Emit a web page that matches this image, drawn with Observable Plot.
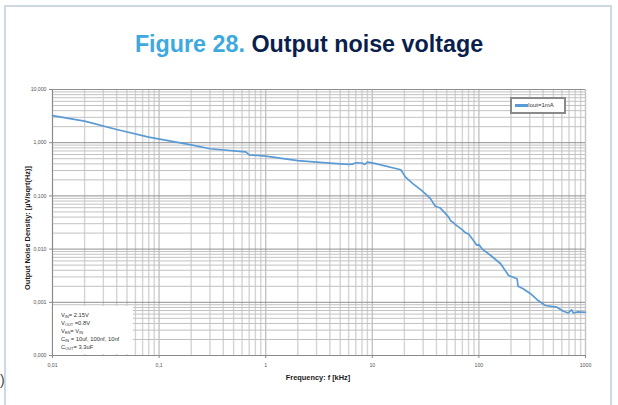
<!DOCTYPE html>
<html>
<head>
<meta charset="utf-8">
<script src="https://cdn.jsdelivr.net/npm/d3@7"></script>
<script src="https://cdn.jsdelivr.net/npm/@observablehq/plot@0.6"></script>
<style>
  html, body { margin: 0; padding: 0; background: #fff; }
  #wrap { position: relative; width: 618px; height: 405px; overflow: hidden; font-family: "Liberation Sans", Arial, sans-serif; }
  #frame { position: absolute; left: 4px; top: 5px; width: 604px; height: 440px; border: 2px solid #cdd8e3; border-bottom: none; }
  #title { position: absolute; left: 0; top: 31px; width: 618px; text-align: center; font-weight: bold; font-size: 23.3px; color: #0b1f4d; }
  #title .fig { color: #3ea9de; }
  #chart { position: absolute; left: 0; top: 0; }
  #legend { position: absolute; left: 510px; top: 97px; width: 52px; height: 13px; border: 2px solid #8a8a8a; background: #fff; font-size: 6px; color: #333; }
  #legend .sw { position: absolute; left: 3px; top: 5px; width: 13px; height: 3px; background: #5b9bd5; }
  #legend .lt { position: absolute; left: 16px; top: 2.5px; }
  #note { position: absolute; left: 53px; top: 306px; width: 80px; height: 48px; background: #fff; font-size: 5.8px; color: #333; }
  #note div { position: absolute; left: 8px; white-space: nowrap; }
  #note sub { font-size: 3.9px; vertical-align: -1px; }
  #ylab { position: absolute; left: 27px; top: 228px; transform: translate(-50%, -50%) rotate(-90deg); white-space: nowrap; font-weight: bold; font-size: 7.4px; color: #1a1a1a; }
  #xlab { position: absolute; left: 318px; top: 377px; transform: translate(-50%, -50%); white-space: nowrap; font-weight: bold; font-size: 7.4px; color: #1a1a1a; }
  #cut { position: absolute; left: 0px; top: 372px; font-size: 14px; color: #444; }
</style>
</head>
<body>
<div id="wrap">
  <div id="frame"></div>
  <div id="cut">)</div>
  <div id="title"><span class="fig">Figure 28.</span> Output noise voltage</div>
  <div id="chart"></div>
  <div id="ylab"></div>
  <div id="xlab"></div>
  <div id="legend"><div class="sw"></div><div class="lt">Iout=1mA</div></div>
  <div id="note"></div>
</div>
<script>
// ---- data ----
const freq = [0.01, 0.02, 0.04, 0.08, 0.2, 0.3, 0.6, 0.65, 0.7, 1.0, 2.0, 3.0, 5.0, 6.0, 6.5, 7.0, 8.0, 8.5, 9.0, 10.5,
  18.5, 20.5, 24, 29, 35, 39, 43, 48, 52, 54, 57, 60, 63, 70, 75, 80, 90, 96, 100, 107, 130, 160, 190, 228, 233, 260,
  305, 360, 420, 540, 620, 690, 740, 770, 850, 1000];
const noise = [3.24, 2.54, 1.77, 1.27, 0.91, 0.77, 0.68, 0.67, 0.59, 0.56, 0.46, 0.43, 0.40, 0.39, 0.395, 0.42, 0.415, 0.39, 0.43, 0.41,
  0.31, 0.225, 0.17, 0.127, 0.09, 0.064, 0.06, 0.048, 0.04, 0.0345, 0.032, 0.029, 0.027, 0.023, 0.0202, 0.0192, 0.014, 0.0117, 0.0122, 0.0101, 0.0075, 0.0053, 0.0032, 0.00277, 0.00201, 0.0018,
  0.00145, 0.00108, 0.00087, 0.00081, 0.00068, 0.00063, 0.00072, 0.00063, 0.00066, 0.00065];
const seriesName = "Iout=1mA";
const xTicks = [0.01, 0.1, 1, 10, 100, 1000];
const xTickLabels = ["0,01", "0,1", "1", "10", "100", "1000"];
const yTicks = [10, 1, 0.1, 0.01, 0.001, 0.0001];
const yTickLabels = ["10,000", "1,000", "0,100", "0,010", "0,001", "0,000"];
const xLabel = "Frequency: f [kHz]";
const yLabel = "Output Noise Density: [µV/sqrt(Hz)]";
const noteLines = [
  ["V", "IN", "= 2.15V"],
  ["V", "OUT", " =0.8V"],
  ["V", "EN", "= V", "IN"],
  ["C", "IN", " = 10uf, 100nf, 10nf"],
  ["C", "OUT", "= 3.3uF"]
];

// ---- grid positions (1..9 per decade) ----
const xMinor = [], yMinor = [];
for (let k = -2; k < 3; k++) for (let m = 2; m <= 9; m++) xMinor.push(m * Math.pow(10, k));
for (let k = -4; k < 1; k++) for (let m = 2; m <= 9; m++) yMinor.push(m * Math.pow(10, k));

const data = freq.map((f, i) => ({f, v: noise[i]}));
const xFmt = new Map(xTicks.map((t, i) => [t, xTickLabels[i]]));
const yFmt = new Map(yTicks.map((t, i) => [t, yTickLabels[i]]));

const chart = Plot.plot({
  width: 618,
  height: 405,
  marginLeft: 52,
  marginRight: 33,
  marginTop: 89,
  marginBottom: 50,
  style: {fontFamily: "Liberation Sans, Arial, sans-serif", background: "transparent", color: "#555"},
  x: {type: "log", domain: [0.01, 1000]},
  y: {type: "log", domain: [0.0001, 10]},
  marks: [
    Plot.ruleX(xMinor, {stroke: "#d4d4d4", strokeWidth: 1.4}),
    Plot.ruleX(xTicks, {stroke: "#c4c4c4", strokeWidth: 1.4}),
    Plot.ruleY(yMinor, {stroke: "#c2c2c2", strokeWidth: 1}),
    Plot.ruleY(yTicks, {stroke: "#8f8f8f", strokeWidth: 1}),
    Plot.ruleX([0.01], {stroke: "#8a8a8a", strokeWidth: 1}),
    Plot.ruleY([0.0001], {stroke: "#8a8a8a", strokeWidth: 1}),
    Plot.axisX(xTicks, {tickFormat: d => xFmt.get(d), tickSize: 3, tickPadding: 5, fontSize: 5.2, label: null, stroke: "#8a8a8a"}),
    Plot.axisY(yTicks, {tickFormat: d => yFmt.get(d), tickSize: 3, tickPadding: 3, fontSize: 5.2, label: null, stroke: "#8a8a8a"}),
    Plot.line(data, {x: "f", y: "v", stroke: "#5b9bd5", strokeWidth: 1.7})
  ]
});
document.getElementById("chart").appendChild(chart);
document.querySelector("#legend .lt").textContent = seriesName;
document.getElementById("ylab").textContent = yLabel;
document.getElementById("xlab").textContent = xLabel;

const note = document.getElementById("note");
noteLines.forEach((parts, i) => {
  const div = document.createElement("div");
  div.style.top = (6 + i * 7.9) + "px";
  let html = "";
  for (let j = 0; j < parts.length; j++) {
    html += (j % 2 === 1) ? "<sub>" + parts[j] + "</sub>" : parts[j];
  }
  div.innerHTML = html;
  note.appendChild(div);
});
</script>
</body>
</html>
